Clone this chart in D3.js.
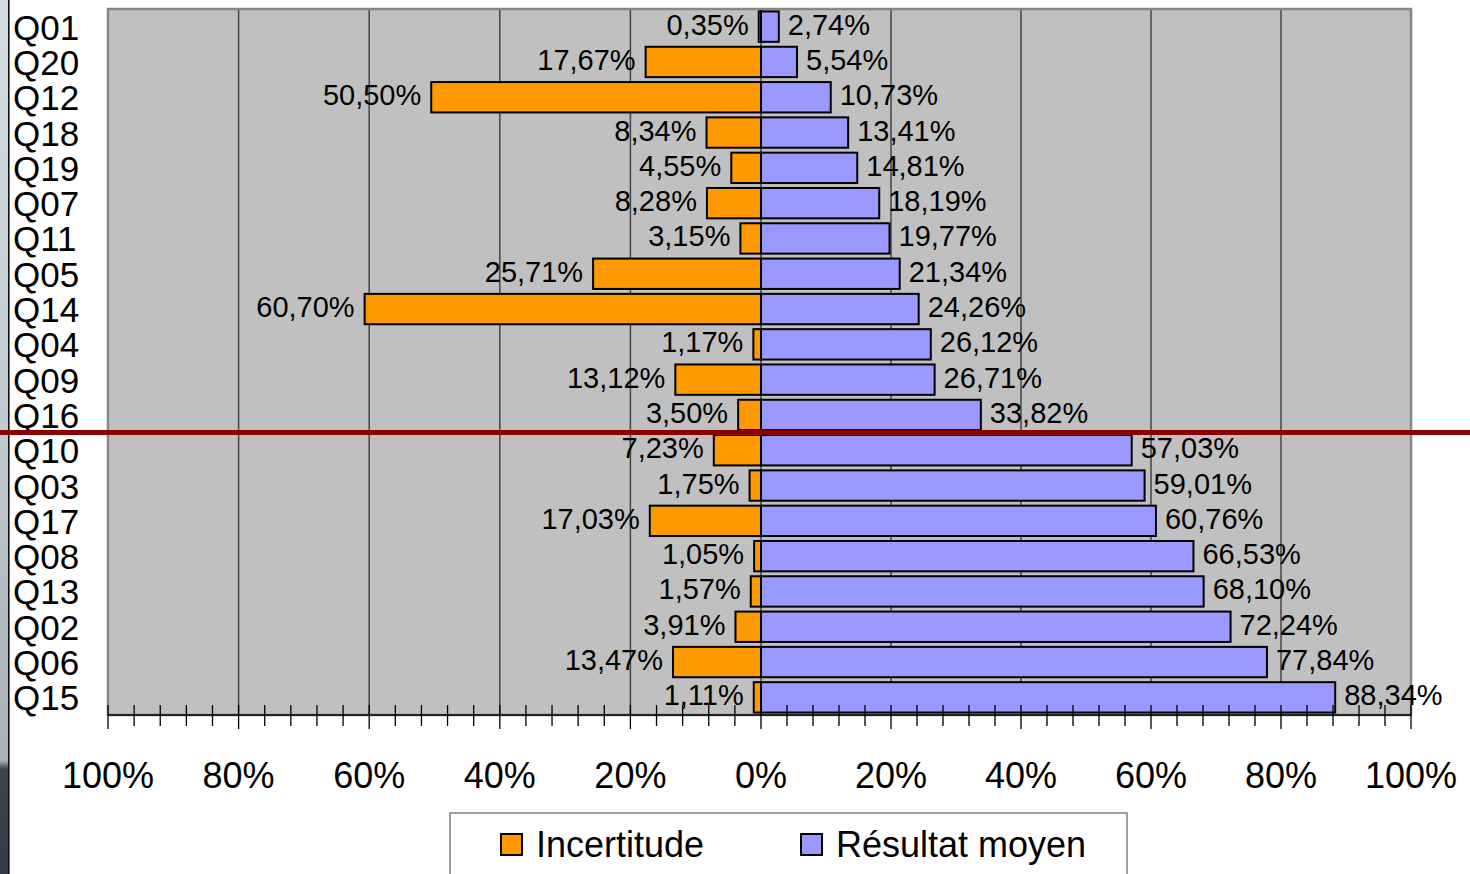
<!DOCTYPE html>
<html><head><meta charset="utf-8">
<script src="https://cdn.jsdelivr.net/npm/d3@7"></script>
<style>html,body{margin:0;padding:0;background:#fff;overflow:hidden}svg{display:block}text{font-family:"Liberation Sans",Arial,sans-serif}</style>
</head><body>
<script>
const categories = ["Q01","Q20","Q12","Q18","Q19","Q07","Q11","Q05","Q14","Q04","Q09","Q16","Q10","Q03","Q17","Q08","Q13","Q02","Q06","Q15"];
const incertitude = [0.35,17.67,50.50,8.34,4.55,8.28,3.15,25.71,60.70,1.17,13.12,3.50,7.23,1.75,17.03,1.05,1.57,3.91,13.47,1.11];
const resultat = [2.74,5.54,10.73,13.41,14.81,18.19,19.77,21.34,24.26,26.12,26.71,33.82,57.03,59.01,60.76,66.53,68.10,72.24,77.84,88.34];
const majorTicks = [-100,-80,-60,-40,-20,0,20,40,60,80,100];
const seriesNames = ["Incertitude","Résultat moyen"];
const separatorAfter = "Q16";

(function(){
const W = 1470, H = 874;
const pL = 108, pZ = 761, pR = 1411, pT = 9, pB = 715;
const svg = d3.select("body").append("svg").attr("width", W).attr("height", H);

const grad = svg.append("defs").append("linearGradient").attr("id","edge").attr("x1",0).attr("y1",0).attr("x2",0).attr("y2",1);
grad.append("stop").attr("offset","0").attr("stop-color","#d4dce4");
grad.append("stop").attr("offset","0.5").attr("stop-color","#c0c8d0");
grad.append("stop").attr("offset","0.87").attr("stop-color","#a8b0b8");
grad.append("stop").attr("offset","0.88").attr("stop-color","#3a4550");
grad.append("stop").attr("offset","1").attr("stop-color","#323c48");
svg.append("rect").attr("x",0).attr("y",0).attr("width",8).attr("height",H).attr("fill","url(#edge)");
svg.append("rect").attr("x",8).attr("y",0).attr("width",1.6).attr("height",H).attr("fill","#111");

const x = d3.scaleLinear().domain([-100,0,100]).range([pL,pZ,pR]);
const y = d3.scaleBand().domain(categories).range([pT,pB]).paddingInner(0.14).paddingOuter(0.07);

svg.append("rect").attr("x",pL).attr("y",pT).attr("width",pR-pL).attr("height",pB-pT).attr("fill","#c0c0c0");

svg.append("g").selectAll("line").data(majorTicks.filter(t=>Math.abs(t)!==100))
  .join("line").attr("x1",d=>x(d)).attr("x2",d=>x(d)).attr("y1",pT).attr("y2",pB)
  .attr("stroke","#444").attr("stroke-width",1.5);

svg.append("rect").attr("x",pL).attr("y",pT).attr("width",pR-pL).attr("height",pB-pT)
  .attr("fill","none").attr("stroke","#868686").attr("stroke-width",2.5);

const fmt = v => d3.format(".2f")(v).replace(".",",") + "%";

const rows = categories.map((c,i)=>({c, inc:incertitude[i], res:resultat[i]}));
const g = svg.append("g");
g.selectAll("rect.inc").data(rows).join("rect").attr("class","inc")
  .attr("x",d=>x(-d.inc)).attr("y",d=>y(d.c)).attr("width",d=>x(0)-x(-d.inc)).attr("height",y.bandwidth())
  .attr("fill","#ff9900").attr("stroke","#000").attr("stroke-width",2);
g.selectAll("rect.res").data(rows).join("rect").attr("class","res")
  .attr("x",x(0)).attr("y",d=>y(d.c)).attr("width",d=>x(d.res)-x(0)).attr("height",y.bandwidth())
  .attr("fill","#9999ff").attr("stroke","#000").attr("stroke-width",2);

g.selectAll("text.li").data(rows).join("text").attr("class","li")
  .attr("x",d=>x(-d.inc)-10).attr("y",d=>y(d.c)+y.bandwidth()/2+8)
  .attr("text-anchor","end").attr("font-size",29).attr("fill","#000").text(d=>fmt(d.inc));
g.selectAll("text.lr").data(rows).join("text").attr("class","lr")
  .attr("x",d=>x(d.res)+9).attr("y",d=>y(d.c)+y.bandwidth()/2+8)
  .attr("text-anchor","start").attr("font-size",29).attr("fill","#000").text(d=>fmt(d.res));

svg.append("g").selectAll("text").data(categories).join("text")
  .attr("x",13).attr("y",d=>y(d)+y.bandwidth()/2+13)
  .attr("font-size",35).attr("fill","#000").text(d=>d);

const minor = d3.range(-100,100.01,4);
const ax = svg.append("g");
ax.append("line").attr("x1",pL).attr("x2",pR).attr("y1",pB).attr("y2",pB).attr("stroke","#000").attr("stroke-width",1.5);
ax.selectAll("line.t").data(minor).join("line").attr("class","t")
  .attr("x1",d=>x(d)).attr("x2",d=>x(d))
  .attr("y1",pB-10).attr("y2",d=>majorTicks.includes(Math.round(d))?pB+14:pB+11)
  .attr("stroke","#000").attr("stroke-width",1.3);
ax.selectAll("text").data(majorTicks).join("text")
  .attr("x",d=>x(d)).attr("y",788).attr("text-anchor","middle").attr("font-size",36).attr("fill","#000")
  .text(d=>Math.abs(d)+"%");

const sepY = y(separatorAfter) + y.step() - y.step()*0.07;
svg.append("line").attr("x1",0).attr("x2",W).attr("y1",sepY).attr("y2",sepY).attr("stroke","#8b0000").attr("stroke-width",5);

const lg = svg.append("g");
lg.append("rect").attr("x",450).attr("y",813).attr("width",677).attr("height",90).attr("fill","#fff").attr("stroke","#808080").attr("stroke-width",1.5);
const legItems = [{n:seriesNames[0],c:"#ff9900",x:501},{n:seriesNames[1],c:"#9999ff",x:801}];
legItems.forEach(d=>{
  lg.append("rect").attr("x",d.x).attr("y",834).attr("width",21).attr("height",21).attr("fill",d.c).attr("stroke","#000").attr("stroke-width",2);
  lg.append("text").attr("x",d.x+35).attr("y",857).attr("font-size",36).attr("fill","#000").text(d.n);
});
})();
</script>
</body></html>
